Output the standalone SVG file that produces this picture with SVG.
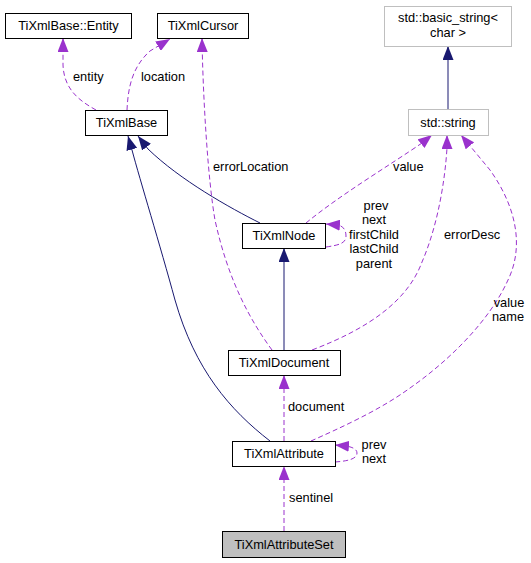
<svg xmlns="http://www.w3.org/2000/svg" width="531" height="563" viewBox="0 0 531 563">
<style>
  text { font-family: "Liberation Sans", Arial, sans-serif; font-size: 12.8px; fill: #000; }
  .node rect { fill: #fff; stroke: #000; stroke-width: 1; }
  .ext rect { fill: #fff; stroke: #bfbfbf; stroke-width: 1; }
  .cur rect { fill: #bfbfbf; stroke: #000; stroke-width: 1; }
  .node text, .ext text, .cur text { text-anchor: middle; }
  .inh { fill: none; stroke: #191970; stroke-width: 1; marker-end: url(#ah-blue); }
  .use { fill: none; stroke: #9a32cd; stroke-width: 1; stroke-dasharray: 5,3; marker-end: url(#ah-purple); }
  .lbl-m { text-anchor: middle; }
</style>
<defs>
  <marker id="ah-blue" viewBox="0 0 14 11" markerUnits="userSpaceOnUse" markerWidth="14" markerHeight="11" refX="14" refY="5.5" orient="auto">
    <path d="M0,0 L14,5.5 L0,11 Z" fill="#191970"/>
  </marker>
  <marker id="ah-purple" viewBox="0 0 14 11" markerUnits="userSpaceOnUse" markerWidth="14" markerHeight="11" refX="14" refY="5.5" orient="auto">
    <path d="M0,0 L14,5.5 L0,11 Z" fill="#9a32cd"/>
  </marker>
</defs>

<g id="edges">
  <!-- inheritance -->
  <path class="inh" d="M448,109 L448,46"/>
  <path class="inh" d="M260,223 C230,208 180,180 148,149 L138,136"/>
  <path class="inh" d="M270,441 C230,410 195,370 175,300 C160,245 140,180 132,150 L128,136"/>
  <path class="inh" d="M284,350 L284,248"/>
  <!-- usage -->
  <path class="use" d="M96,110 C80,101 64,90 63,65 L63,38"/>
  <text x="73" y="81">entity</text>
  <path class="use" d="M127,110 C128,90 131,68 150,51 L170,39"/>
  <text x="141" y="81">location</text>
  <path class="use" d="M272,350 C250,320 228,280 215,220 C208,180 203,100 202,38"/>
  <text x="213" y="171">errorLocation</text>
  <path class="use" d="M306,223 C340,195 390,165 422,143 L432,135"/>
  <text x="393" y="171">value</text>
  <path class="use" d="M326,247 C340,245 346,243 346,236 C346,230 343,226 338,225 L326,224"/>
  <text class="lbl-m" x="376" y="209.5">prev</text>
  <text class="lbl-m" x="374" y="224">next</text>
  <text class="lbl-m" x="374" y="238.5">firstChild</text>
  <text class="lbl-m" x="374" y="253">lastChild</text>
  <text class="lbl-m" x="374" y="267.5">parent</text>
  <path class="use" d="M312,350 C370,328 408,300 422,262 C438,225 445,180 447,148 L447,135"/>
  <text x="444" y="239">errorDesc</text>
  <path class="use" d="M311,441 C340,428 380,410 410,388 C450,360 490,320 508,280 C525,245 515,205 490,170 L461,135"/>
  <text class="lbl-m" x="509" y="307">value</text>
  <text class="lbl-m" x="508" y="321">name</text>
  <path class="use" d="M284,441 L284,375"/>
  <text x="288" y="411">document</text>
  <path class="use" d="M335,462 C348,461 357,459 357,453 C357,449 352,447 346,446 L335,445"/>
  <text class="lbl-m" x="374" y="449">prev</text>
  <text class="lbl-m" x="374" y="463">next</text>
  <path class="use" d="M284,531 L284,466"/>
  <text x="289" y="502">sentinel</text>
</g>

<g id="TiXmlBase_Entity" class="node">
  <rect x="5.5" y="13.5" width="126" height="25"/>
  <text x="68.5" y="30">TiXmlBase::Entity</text>
</g>
<g id="TiXmlCursor" class="node">
  <rect x="157.5" y="13.5" width="91" height="25"/>
  <text x="203" y="30">TiXmlCursor</text>
</g>
<g id="TiXmlBase" class="node">
  <rect x="85.5" y="110.5" width="82" height="25"/>
  <text x="126.5" y="127">TiXmlBase</text>
</g>
<g id="std_basic_string" class="ext">
  <rect x="384.5" y="6.5" width="127" height="40"/>
  <text x="448" y="22">std::basic_string&lt;</text>
  <text x="448" y="37">char &gt;</text>
</g>
<g id="std_string" class="ext">
  <rect x="408.5" y="109.5" width="80" height="26"/>
  <text x="448" y="127">std::string</text>
</g>
<g id="TiXmlNode" class="node">
  <rect x="242.5" y="223.5" width="83" height="25"/>
  <text x="284" y="240">TiXmlNode</text>
</g>
<g id="TiXmlDocument" class="node">
  <rect x="228.5" y="350.5" width="112" height="25"/>
  <text x="284" y="367">TiXmlDocument</text>
</g>
<g id="TiXmlAttribute" class="node">
  <rect x="232.5" y="441.5" width="103" height="25"/>
  <text x="284" y="458">TiXmlAttribute</text>
</g>
<g id="TiXmlAttributeSet" class="cur">
  <rect x="222.5" y="531.5" width="123" height="26"/>
  <text x="284" y="549">TiXmlAttributeSet</text>
</g>
</svg>
